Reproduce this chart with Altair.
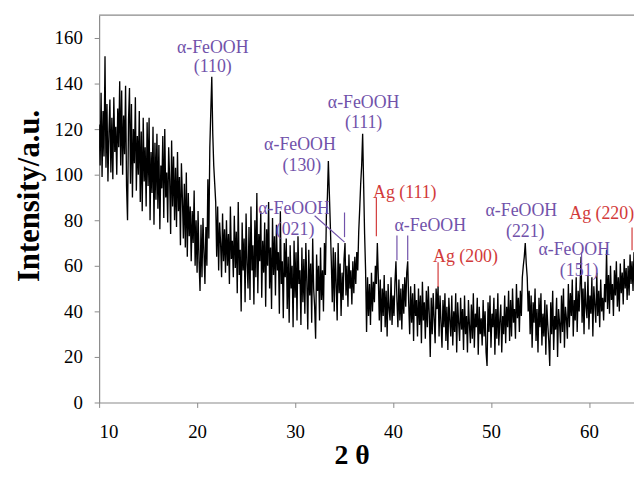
import altair as alt
import numpy as np
import pandas as pd

# XRD intensity, 0.1 deg steps starting at 2theta = 10.0
int_10_15 = [
    122, 104, 136, 99, 128, 108, 152, 103, 131, 97,
    118, 133, 101, 125, 98, 134, 110, 121, 100, 129,
    112, 141, 104, 137, 100, 126, 109, 139, 95, 80,
    124, 138, 96, 131, 90, 120, 105, 134, 93, 117,
    100, 128, 88, 119, 84, 125, 97, 112, 86, 123,
]
int_15_20 = [
    95, 125, 80, 110, 92, 121, 78, 114, 89, 118,
    85, 113, 76, 104, 94, 117, 81, 120, 90, 101,
    79, 112, 98, 74, 115, 86, 108, 80, 103, 77,
    110, 84, 99, 69, 105, 90, 72, 96, 68, 101,
    64, 92, 73, 86, 62, 84, 70, 93, 60, 80,
]
int_20_25 = [
    57, 84, 62, 49, 78, 55, 81, 66, 52, 77,
    60, 98, 72, 112, 128, 143, 118, 104, 96, 88,
    64, 86, 58, 79, 70, 55, 83, 62, 76, 57,
    80, 60, 74, 52, 86, 63, 71, 55, 82, 59,
    75, 48, 88, 56, 67, 40, 79, 58, 72, 44,
]
int_25_30 = [
    83, 61, 50, 77, 45, 86, 58, 69, 43, 80,
    55, 92, 48, 74, 62, 84, 46, 71, 57, 79,
    42, 76, 60, 88, 50, 68, 41, 81, 56, 73,
    47, 78, 58, 66, 39, 84, 52, 62, 37, 70,
    55, 72, 41, 64, 35, 69, 50, 60, 33, 71,
]
int_30_35 = [
    46, 66, 36, 73, 52, 58, 34, 68, 44, 63,
    39, 70, 53, 32, 67, 47, 61, 35, 72, 50,
    42, 28, 65, 49, 60, 36, 68, 45, 58, 40,
    70, 56, 82, 90, 106, 92, 78, 62, 44, 68,
    40, 66, 52, 36, 70, 48, 61, 38, 57, 45,
]
int_35_40 = [
    63, 70, 47, 60, 42, 65, 50, 58, 43, 62,
    48, 64, 52, 66, 58, 75, 85, 96, 104, 118,
    96, 74, 58, 31, 55, 38, 52, 34, 57, 40,
    53, 44, 60, 52, 70, 55, 36, 54, 31, 50,
    38, 56, 33, 49, 29, 52, 41, 36, 55, 34,
]
int_40_45 = [
    47, 38, 53, 62, 45, 33, 54, 36, 50, 32,
    52, 39, 55, 42, 57, 62, 44, 30, 51, 35,
    48, 27, 52, 38, 45, 29, 50, 34, 47, 26,
    53, 36, 44, 28, 49, 33, 51, 39, 20, 46,
    30, 48, 37, 26, 50, 41, 51, 29, 47, 35,
]
int_45_50 = [
    24, 45, 33, 48, 27, 42, 23, 46, 36, 29,
    47, 25, 40, 31, 48, 22, 44, 35, 27, 46,
    32, 41, 23, 47, 30, 38, 22, 45, 34, 26,
    43, 28, 48, 24, 39, 33, 46, 21, 42, 30,
    37, 25, 45, 29, 40, 22, 16, 44, 31, 47,
]
int_50_55 = [
    24, 39, 33, 46, 21, 41, 28, 48, 25, 36,
    43, 22, 38, 30, 47, 26, 42, 33, 49, 27,
    45, 29, 50, 35, 41, 28, 52, 37, 46, 31,
    49, 38, 55, 60, 64, 70, 61, 55, 40, 49,
    30, 47, 24, 44, 35, 50, 27, 41, 22, 46,
]
int_55_60 = [
    33, 48, 25, 39, 29, 45, 21, 43, 34, 27,
    16, 44, 30, 49, 23, 38, 32, 46, 20, 41,
    35, 26, 47, 31, 50, 24, 42, 37, 28, 52,
    33, 48, 38, 54, 29, 45, 36, 55, 31, 49,
    40, 52, 64, 35, 50, 30, 53, 42, 37, 56,
]
int_60_65 = [
    32, 47, 39, 55, 29, 51, 43, 35, 57, 38,
    49, 33, 54, 40, 46, 36, 52, 44, 67, 41,
    56, 39, 60, 45, 52, 38, 58, 47, 62, 42,
    55, 40, 61, 48, 57, 43, 63, 50, 59, 45,
    60, 47, 65, 52, 62, 49, 66,
]

intensity = (int_10_15 + int_15_20 + int_20_25 + int_25_30 + int_30_35 + int_35_40
             + int_40_45 + int_45_50 + int_50_55 + int_55_60 + int_60_65)
two_theta = np.round(10.0 + 0.1 * np.arange(len(intensity)), 1)

PURPLE = "#7152aa"
RED = "#d23a3a"

# annotation texts
label_text = ["α-FeOOH", "(110)", "α-FeOOH", "(130)", "α-FeOOH", "(111)",
              "α-FeOOH", "(021)", "Ag (111)", "α-FeOOH", "Ag (200)",
              "α-FeOOH", "(221)", "α-FeOOH", "(151)", "Ag (220)"]
label_x = [21.6, 21.6, 30.5, 30.7, 37.0, 37.0,
           29.9, 30.0, 41.2, 43.8, 47.4,
           53.1, 53.5, 58.5, 59.0, 61.3]
label_y = [155.5, 147.2, 113.2, 104.0, 131.4, 122.6,
           85.0, 75.9, 91.9, 77.6, 63.7,
           84.1, 75.0, 66.8, 57.7, 82.8]
label_color = [PURPLE, PURPLE, PURPLE, PURPLE, PURPLE, PURPLE,
               PURPLE, PURPLE, RED, PURPLE, RED,
               PURPLE, PURPLE, PURPLE, PURPLE, RED]

# marker lines
mark_x = [35.05, 32.0, 38.3, 40.4, 41.5, 44.6, 59.25, 64.4]
mark_x2 = [35.05, 35.05, 38.3, 40.4, 41.5, 44.6, 59.25, 64.4]
mark_y = [83.4, 82.0, 90.0, 73.3, 73.3, 61.6, 66.0, 76.8]
mark_y2 = [72.6, 70.4, 73.0, 62.4, 62.4, 50.7, 56.0, 66.8]
mark_color = [PURPLE, PURPLE, RED, PURPLE, PURPLE, RED, PURPLE, RED]

xrd = pd.DataFrame({"t": two_theta, "i": intensity})
labels = pd.DataFrame({"text": label_text, "x": label_x, "y": label_y, "c": label_color})
marks = pd.DataFrame({"x": mark_x, "x2": mark_x2, "y": mark_y, "y2": mark_y2, "c": mark_color})

FONT = "Liberation Serif"
xscale = alt.Scale(domain=[10, 64.6], nice=False, zero=False)
yscale = alt.Scale(domain=[0, 170], nice=False)

line = alt.Chart(xrd).mark_line(color="black", strokeWidth=1.35, clip=True).encode(
    x=alt.X("t:Q", scale=xscale,
            axis=alt.Axis(values=[10, 20, 30, 40, 50, 60], format="d", title="2 θ",
                          titleX=255, titleY=62, titleBaseline="alphabetic",
                          titleAlign="center", titleFontSize=28, labelPadding=15)),
    y=alt.Y("i:Q", scale=yscale,
            axis=alt.Axis(values=[0, 20, 40, 60, 80, 100, 120, 140, 160], title="Intensity/a.u.",
                          titleX=-70, titleY=182, titleAlign="center", titleBaseline="middle",
                          titleAngle=270, titleFontSize=31, labelPadding=12)),
)

top = alt.Chart(pd.DataFrame({"y": [170]})).mark_rule(color="#8a8a8a", strokeWidth=1.2).encode(
    y=alt.Y("y:Q", scale=yscale)
)

rules = alt.Chart(marks).mark_rule(strokeWidth=1.2).encode(
    x=alt.X("x:Q", scale=xscale), x2="x2:Q",
    y=alt.Y("y:Q", scale=yscale), y2="y2:Q",
    color=alt.Color("c:N", scale=None),
)

texts = alt.Chart(labels).mark_text(font=FONT, fontSize=18, align="center", baseline="middle").encode(
    x=alt.X("x:Q", scale=xscale),
    y=alt.Y("y:Q", scale=yscale),
    text="text:N",
    color=alt.Color("c:N", scale=None),
)

chart = alt.layer(line, top, rules, texts).properties(
    width=540, height=391,
    autosize=alt.AutoSizeParams(type="none"),
    padding={"left": 92, "top": 5, "right": 0, "bottom": 80},
).configure_view(stroke=None).configure_axis(
    grid=False,
    labelFont=FONT, labelFontSize=19, labelColor="black",
    titleFont=FONT, titleFontWeight="bold", titleColor="black",
    domainColor="#8a8a8a", tickColor="#8a8a8a", tickSize=5, domainWidth=1.2,
)

chart.save("out.html", embed_options={"renderer": "svg", "actions": False})
